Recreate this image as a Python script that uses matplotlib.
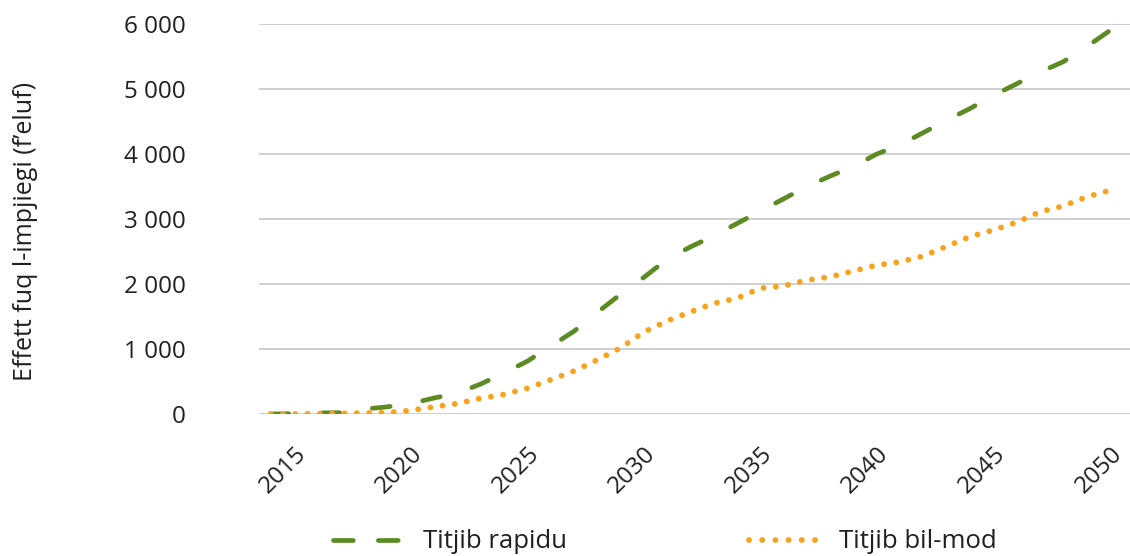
import matplotlib
matplotlib.use("Agg")
import matplotlib.pyplot as plt
from matplotlib.lines import Line2D

plt.rcParams['font.family'] = ['Open Sans', 'DejaVu Sans']

# values (thousands of jobs)
years = list(range(2014, 2051))
rapid = [0, 5, 15, 20, 75, 110, 160, 245, 320, 460, 630, 810, 1040, 1270, 1560, 1840,
         2100, 2380, 2570, 2740, 2930, 3120, 3310, 3500, 3660, 3810, 4000, 4140, 4330,
         4520, 4700, 4900, 5080, 5260, 5420, 5650, 5900]
slow = [0, 0, 5, 10, 15, 20, 55, 110, 160, 240, 300, 395, 525, 660, 830, 1015,
        1260, 1430, 1570, 1700, 1780, 1935, 1970, 2060, 2110, 2200, 2290, 2340, 2430,
        2580, 2730, 2830, 2950, 3110, 3200, 3340, 3440]
yticks = [0, 1000, 2000, 3000, 4000, 5000, 6000]
ytick_labels = ['0', '1 000', '2 000', '3 000', '4 000', '5 000', '6 000']
xtick_years = [2015, 2020, 2025, 2030, 2035, 2040, 2045, 2050]
series_names = ['Titjib rapidu', 'Titjib bil-mod']

green = '#5C8A23'
orange = '#F9A21B'
txt = '#231F20'
fs_tick = 17.5
fs_lab = 18
fs_leg = 18.5

fig = plt.figure(figsize=(11.3, 5.56), dpi=100)
ax = fig.add_axes([259 / 1130, 1 - 414 / 556, 1 - 259 / 1130, (414 - 24) / 556])

x = list(range(len(years)))
ax.plot(x, rapid, color=green, lw=3.4, dashes=(3.8, 7.0), dash_capstyle='round')
ax.plot(x, slow, color=orange, lw=4.2, dashes=(0.01, 2.1), dash_capstyle='round')

ax.set_xlim(-0.5, 36.86)
ax.set_ylim(0, 6000)
ax.set_yticks(yticks)
ax.set_yticklabels(ytick_labels, fontsize=fs_tick, color=txt)
ax.set_xticks([years.index(y) for y in xtick_years])
# year labels: text end anchored at the tick, running down-left
ax.set_xticklabels([str(y) for y in xtick_years], fontsize=fs_tick, color=txt,
                   rotation=45, ha='right', va='top', rotation_mode='anchor')

ax.tick_params(axis='both', length=0)
ax.tick_params(axis='y', pad=53)
ax.tick_params(axis='x', pad=20)
ax.grid(axis='y', color='#CCCCCC', lw=1.3)
ax.set_axisbelow(True)
for s in ax.spines.values():
    s.set_visible(False)

fig.text(26 / 1130, 1 - 231 / 556, 'Effett fuq l-impjiegi (f\u2019eluf)', rotation=90,
         ha='center', va='center', fontsize=fs_lab, color=txt)

# legend samples drawn like the reference key
handles = [
    Line2D([], [], color=green, lw=3.4, dashes=(4.2, 5.3), dash_capstyle='round'),
    Line2D([], [], color=orange, lw=4.2, dashes=(0.01, 2.25), dash_capstyle='round'),
]
fig.legend(handles, series_names, loc='center', bbox_to_anchor=(0.5885, 1 - 542 / 556),
           ncol=2, frameon=False, fontsize=fs_leg, handlelength=2.7, handletextpad=0.8,
           columnspacing=7.1, labelcolor=txt, borderpad=0)

fig.savefig('out.png', dpi=100)
